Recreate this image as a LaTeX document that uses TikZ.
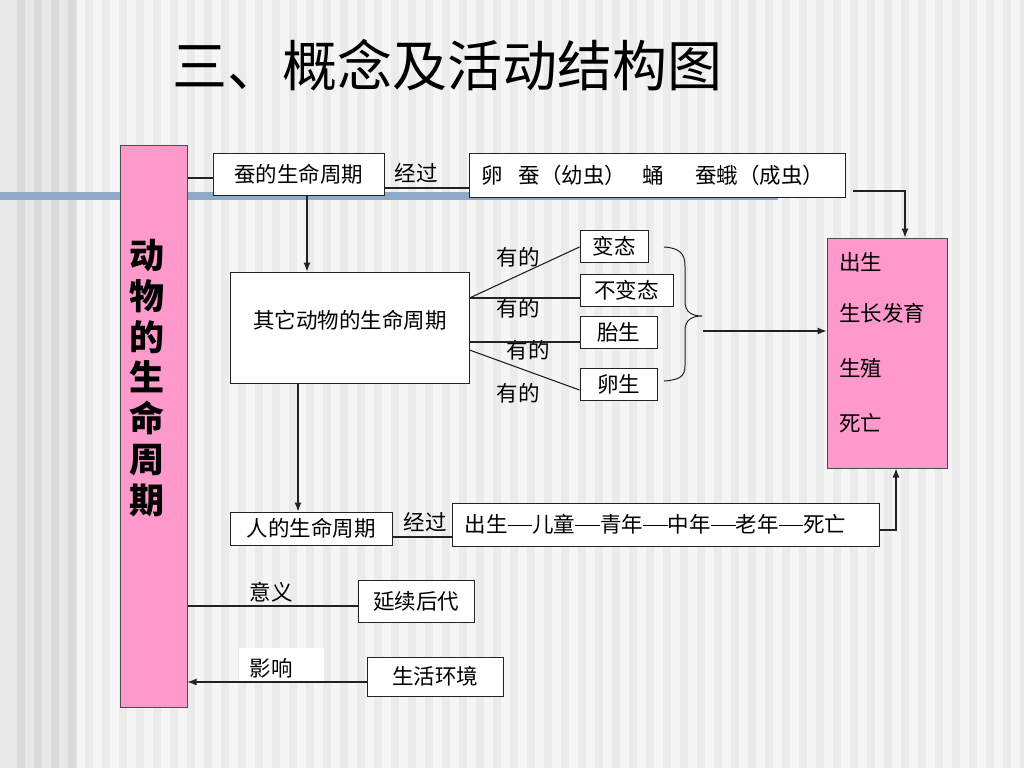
\documentclass[tikz,border=0pt]{standalone}
\usepackage{fontspec}
\setmainfont{Noto Sans CJK SC}
\usetikzlibrary{arrows.meta}
\definecolor{bgbase}{HTML}{F5F5F5}
\definecolor{bgstripe}{HTML}{EBEBEB}
\definecolor{bgleft}{HTML}{E8E8E8}
\definecolor{bgleftstripe}{HTML}{DADADA}
\definecolor{barblue}{HTML}{8FAAC8}
\definecolor{pinkfill}{HTML}{FF99CC}
\definecolor{linecol}{HTML}{222222}
\newcommand\dashbar{\rule[0.34em]{1.15em}{0.04em}}
\begin{document}
\begin{tikzpicture}[x=1pt,y=-1pt,
  box/.style={draw=linecol, fill=white, line width=1pt, inner sep=0pt, font=\fontsize{21.5}{21.5}\selectfont},
  pinkbox/.style={draw=black!70, fill=pinkfill, line width=1pt, inner sep=0pt},
  lbl/.style={inner sep=0pt, font=\fontsize{21.5}{21.5}\selectfont},
  conn/.style={draw=linecol, line width=1.1pt},
  arr/.style={conn, -{Latex[length=9pt,width=7pt]}}]
% background
\useasboundingbox (0,0) rectangle (1024,768);
\fill[bgbase] (0,0) rectangle (1024,768);
\foreach \i in {5,...,60} { \fill[bgstripe] (\i*17,0) rectangle (\i*17+8,768); }
\fill[bgleft] (0,0) rectangle (77,768);
\foreach \i in {1,...,4} { \fill[bgleftstripe] (\i*17,0) rectangle (\i*17+8,768); }
\fill[barblue] (0,192) rectangle (778,200);
% title
\node[inner sep=0pt, font=\fontsize{55}{55}\selectfont] (title) at (447,65) {三、概念及活动结构图};
% left pink box
\node[pinkbox, minimum width=67pt, minimum height=562pt] (life) at (153.5,426) {};
\node[inner sep=0pt, align=center, font=\fontsize{35}{40.7}\selectfont\bfseries] (lifetext) at (147,378) {动\\物\\的\\生\\命\\周\\期};
% right pink box
\node[pinkbox, minimum width=120pt, minimum height=230pt] (rbox) at (887,353) {};
\node[lbl, anchor=west] (r1) at (839,262) {出生};
\node[lbl, anchor=west] (r2) at (839,313) {生长发育};
\node[lbl, anchor=west] (r3) at (839,368) {生殖};
\node[lbl, anchor=west] (r4) at (839,423) {死亡};
% boxes
\node[box, minimum width=171pt, minimum height=42pt] (silk) at (298.5,174) {蚕的生命周期};
\node[box, minimum width=376pt, minimum height=44pt] (stages) at (657,175) {\makebox[352pt][l]{卵\hspace{16pt}蚕（幼虫）\hspace{17pt}蛹\hspace{31pt}蚕蛾（成虫）}};
\node[box, minimum width=239pt, minimum height=111pt] (other) at (349.5,327.5) {};
\node[lbl] (othertext) at (350,320) {其它动物的生命周期};
\node[box, minimum width=162pt, minimum height=33pt] (human) at (311,528.5) {人的生命周期};
\node[box, minimum width=427pt, minimum height=43pt] (hstages) at (665.5,524.5) {出生\dashbar 儿童\dashbar 青年\dashbar 中年\dashbar 老年\dashbar 死亡\hspace*{20pt}};
\node[box, minimum width=68pt, minimum height=32pt] (b1) at (614,246) {变态};
\node[box, minimum width=93pt, minimum height=32pt] (b2) at (626.5,290) {不变态};
\node[box, minimum width=77pt, minimum height=32pt] (b3) at (618.5,332) {胎生};
\node[box, minimum width=77pt, minimum height=32pt] (b4) at (618.5,384) {卵生};
\node[box, minimum width=116pt, minimum height=42pt] (cont) at (416,601) {延续后代};
\node[box, minimum width=136pt, minimum height=39pt] (env) at (435,676.5) {生活环境};
% labels
\node[lbl] (via1) at (416,173) {经过};
\node[lbl] (via2) at (425,522) {经过};
\node[lbl] (mean) at (271,592) {意义};
\fill[white] (239,648) rectangle (324,682);
\node[lbl] (infl) at (271,668) {影响};
\node[lbl] (y1) at (518,257) {有的};
\node[lbl] (y2) at (518,308) {有的};
\node[lbl] (y3) at (528,350) {有的};
\node[lbl] (y4) at (518,393) {有的};
% connectors
\draw[conn] (life.east |- 0,178) -- (silk.west |- 0,178);
\draw[conn] (silk.east |- 0,188) -- (stages.west |- 0,188);
\coordinate (sfree) at (853,191);
\draw[arr] (sfree) -| (rbox.north -| 905,0);
\draw[arr] (silk.south -| 307,0) -- (other.north -| 307,0);
\draw[arr] (other.south -| 298,0) -- (human.north -| 298,0);
\draw[conn] (human.east |- 0,537) -- (hstages.west |- 0,537);
\draw[arr] (hstages.east |- 0,530) -| (rbox.south -| 896,0);
\draw[conn] (other.east |- 0,298) -- (b1.west |- 0,247);
\draw[conn] (other.east |- 0,298) -- (b2.west |- 0,298);
\draw[conn] (other.east |- 0,342) -- (b3.west |- 0,342);
\draw[conn] (other.east |- 0,350) -- (b4.west |- 0,390);
\draw[conn, line width=1pt] (664,247) .. controls (680,248) and (685,254) .. (685,266)
  -- (685,302) .. controls (685,312) and (692,316) .. (702,316)
  .. controls (692,316) and (685,320) .. (685,330)
  -- (685,366) .. controls (685,376) and (680,380) .. (664,381);
\coordinate (bracetip) at (703,331);
\draw[arr] (bracetip) -- (rbox.west |- 0,331);
\draw[conn] (life.east |- 0,606) -- (cont.west |- 0,606);
\draw[arr] (env.west |- 0,682) -- (life.east |- 0,682);
\end{tikzpicture}
\end{document}
